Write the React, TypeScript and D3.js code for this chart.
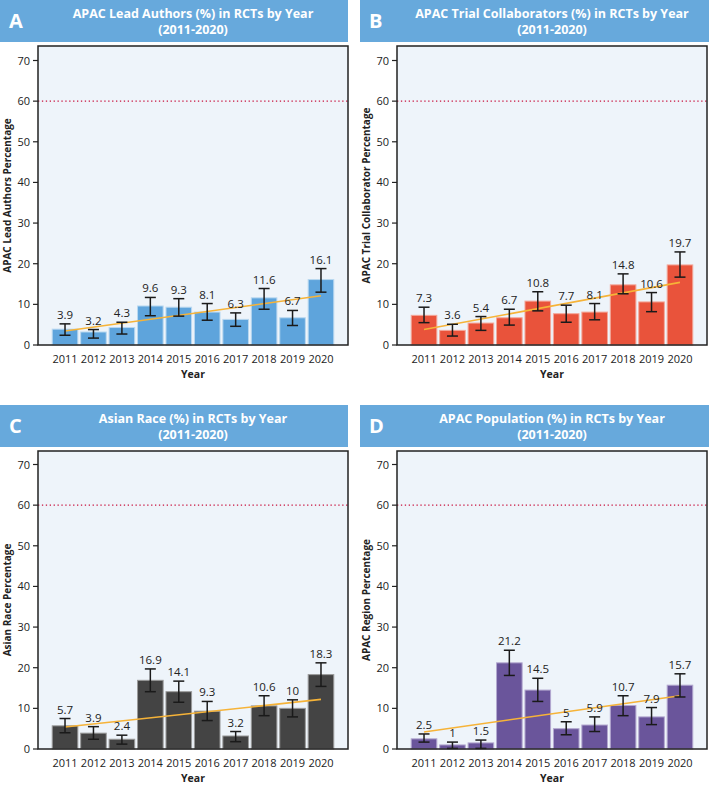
import React from 'react';
import * as d3 from 'd3';

const years = ['2011', '2012', '2013', '2014', '2015', '2016', '2017', '2018', '2019', '2020'];
const yTicks = [0, 10, 20, 30, 40, 50, 60, 70];
const targetLine = 60;

const leadAuthors = [3.9, 3.2, 4.3, 9.6, 9.3, 8.1, 6.3, 11.6, 6.7, 16.1];
const leadAuthorsLow = [2.4, 1.7, 2.7, 7.2, 7.1, 6.1, 4.6, 8.8, 4.8, 13.0];
const leadAuthorsHigh = [5.2, 3.8, 5.6, 11.7, 11.4, 10.2, 7.9, 13.9, 8.5, 18.8];
const leadAuthorsTrend = [3.45, 12.1];

const collaborators = [7.3, 3.6, 5.4, 6.7, 10.8, 7.7, 8.1, 14.8, 10.6, 19.7];
const collaboratorsLow = [5.5, 2.2, 3.6, 4.9, 8.4, 5.6, 6.2, 12.6, 8.2, 16.7];
const collaboratorsHigh = [9.3, 5.1, 7.0, 8.8, 13.1, 9.8, 10.2, 17.5, 12.9, 22.9];
const collaboratorsTrend = [3.8, 15.4];

const asianRace = [5.7, 3.9, 2.4, 16.9, 14.1, 9.3, 3.2, 10.6, 10, 18.3];
const asianRaceLow = [4.0, 2.4, 1.2, 14.1, 11.5, 7.0, 1.8, 8.2, 7.9, 15.4];
const asianRaceHigh = [7.5, 5.5, 3.4, 19.7, 16.7, 11.7, 4.3, 13.1, 12.1, 21.2];
const asianRaceTrend = [5.4, 12.2];

const apacPopulation = [2.5, 1, 1.5, 21.2, 14.5, 5, 5.9, 10.7, 7.9, 15.7];
const apacPopulationLow = [1.7, 0.15, 0.15, 18.1, 11.7, 3.5, 4.3, 8.2, 6.0, 12.8];
const apacPopulationHigh = [3.7, 1.7, 2.2, 24.3, 17.4, 6.7, 7.9, 13.1, 10.2, 18.5];
const apacPopulationTrend = [4.2, 13.1];

const panels = [
  { letter: 'A', title: 'APAC Lead Authors (%) in RCTs by Year', yLabel: 'APAC Lead Authors Percentage', values: leadAuthors, low: leadAuthorsLow, high: leadAuthorsHigh, trend: leadAuthorsTrend, color: '#5ea4dc', edge: '#b9d8f0', hx: 0, hw: 348, hy: 0, fx0: 38, fx1: 348, fy0: 46, fy1: 345 },
  { letter: 'B', title: 'APAC Trial Collaborators (%) in RCTs by Year', yLabel: 'APAC Trial Collaborator Percentage', values: collaborators, low: collaboratorsLow, high: collaboratorsHigh, trend: collaboratorsTrend, color: '#e9533b', edge: '#f3a89a', hx: 360, hw: 349, hy: 0, fx0: 397, fx1: 707, fy0: 46, fy1: 345 },
  { letter: 'C', title: 'Asian Race (%) in RCTs by Year', yLabel: 'Asian Race Percentage', values: asianRace, low: asianRaceLow, high: asianRaceHigh, trend: asianRaceTrend, color: '#444444', edge: '#9a9a9a', hx: 0, hw: 348, hy: 405, fx0: 38, fx1: 348, fy0: 451, fy1: 749 },
  { letter: 'D', title: 'APAC Population (%) in RCTs by Year', yLabel: 'APAC Region Percentage', values: apacPopulation, low: apacPopulationLow, high: apacPopulationHigh, trend: apacPopulationTrend, color: '#6a559b', edge: '#b3a8d0', hx: 360, hw: 349, hy: 405, fx0: 397, fx1: 707, fy0: 451, fy1: 749 },
];

const FONT = '"Open Sans", "Noto Sans", sans-serif';

function Panel({ p }: { p: any }) {
  const x = d3.scaleBand<string>().domain(years).range([p.fx0, p.fx1]).paddingInner(0.1).paddingOuter(0.5);
  const y = d3.scaleLinear().domain([0, 70]).range([p.fy1, p.fy1 - 284.5]);
  const bw = x.bandwidth();
  const cx = (yr: string) => (x(yr) as number) + bw / 2;
  const trendPath = d3.line<[number, number]>().x((d) => d[0]).y((d) => d[1])([
    [cx(years[0]), y(p.trend[0])],
    [cx(years[years.length - 1]), y(p.trend[1])],
  ]);
  const midX = (p.fx0 + p.fx1) / 2;
  const midY = (p.fy0 + p.fy1) / 2;
  return (
    <g>
      <rect x={p.hx} y={p.hy} width={p.hw} height={42} fill="#67a9dc" />
      <text x={p.hx + 9} y={p.hy + 28} fill="#fff" fontFamily={FONT} fontWeight={700} fontSize={20}>{p.letter}</text>
      <text x={midX} y={p.hy + 18} fill="#fff" fontFamily={FONT} fontWeight={700} fontSize={12.5} textAnchor="middle">{p.title}</text>
      <text x={midX} y={p.hy + 34} fill="#fff" fontFamily={FONT} fontWeight={700} fontSize={12.5} textAnchor="middle">(2011-2020)</text>
      <rect x={p.fx0} y={p.fy0} width={p.fx1 - p.fx0} height={p.fy1 - p.fy0} fill="#eef4fa" />
      <line x1={p.fx0} x2={p.fx1} y1={y(targetLine)} y2={y(targetLine)} stroke="#c8103d" strokeWidth={1.3} strokeDasharray="1.3,2.6" />
      {p.values.map((v: number, i: number) => (
        <rect key={'b' + i} x={x(years[i])} y={y(v)} width={bw} height={y(0) - y(v)} fill={p.color} stroke={p.edge} strokeWidth={1} />
      ))}
      <path d={trendPath as string} stroke="#f6b338" strokeWidth={1.6} fill="none" />
      {p.values.map((v: number, i: number) => {
        const c = cx(years[i]);
        const lo = y(p.low[i]);
        const hi = y(p.high[i]);
        return (
          <g key={'e' + i} stroke="#1a1a1a" strokeWidth={1.5}>
            <line x1={c} x2={c} y1={lo} y2={hi} />
            <line x1={c - 5.5} x2={c + 5.5} y1={lo} y2={lo} />
            <line x1={c - 5.5} x2={c + 5.5} y1={hi} y2={hi} />
          </g>
        );
      })}
      {p.values.map((v: number, i: number) => (
        <text key={'l' + i} x={cx(years[i])} y={y(p.high[i]) - 5} textAnchor="middle" fontFamily={FONT} fontSize={11.5} fill="#222">{String(v)}</text>
      ))}
      <rect x={p.fx0} y={p.fy0} width={p.fx1 - p.fx0} height={p.fy1 - p.fy0} fill="none" stroke="#222" strokeWidth={1.5} />
      {yTicks.map((t) => (
        <g key={'t' + t}>
          <line x1={p.fx0 - 5} x2={p.fx0} y1={y(t)} y2={y(t)} stroke="#222" strokeWidth={1.2} />
          <text x={p.fx0 - 8} y={y(t) + 4} textAnchor="end" fontFamily={FONT} fontSize={11} fill="#222">{t}</text>
        </g>
      ))}
      {years.map((yr) => (
        <text key={'x' + yr} x={cx(yr)} y={p.fy1 + 18} textAnchor="middle" fontFamily={FONT} fontSize={11} fill="#222">{yr}</text>
      ))}
      <text x={midX} y={p.fy1 + 33} textAnchor="middle" fontFamily={FONT} fontSize={10.5} fontWeight={700} fill="#222">Year</text>
      <text transform={`translate(${p.fx0 - 27.5},${midY}) rotate(-90)`} textAnchor="middle" fontFamily={FONT} fontSize={10} fontWeight={700} fill="#222">{p.yLabel}</text>
    </g>
  );
}

export default function App() {
  return (
    <svg width={709} height={786} style={{ position: 'absolute', left: 0, top: 0, background: '#fff' }}>
      <rect width={709} height={786} fill="#fff" />
      {panels.map((p) => <Panel key={p.letter} p={p} />)}
    </svg>
  );
}
